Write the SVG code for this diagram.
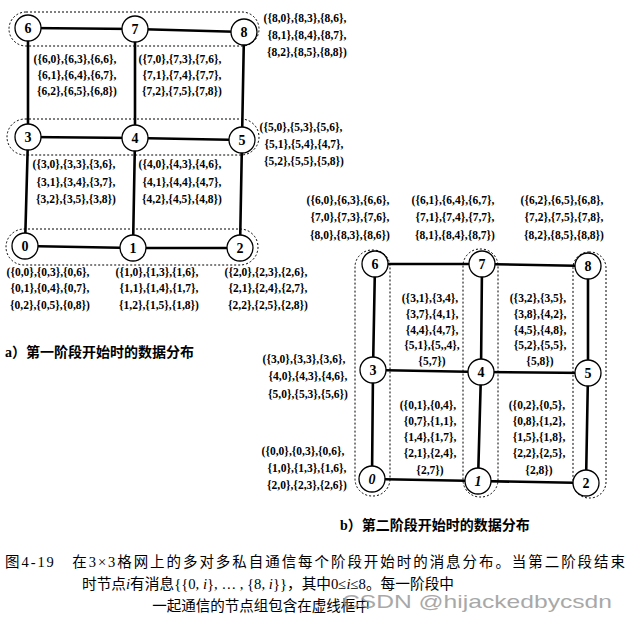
<svg xmlns="http://www.w3.org/2000/svg" width="628" height="620" viewBox="0 0 628 620">
<style>
.e{stroke:#000;stroke-width:2.6;fill:none;stroke-linecap:round}
.c{fill:#fff;stroke:#000;stroke-width:1.3}
.box{fill:none;stroke:#000;stroke-width:1;stroke-dasharray:2 2}
.nl{font-family:"Liberation Serif",serif;font-weight:bold;font-size:14px;text-anchor:middle}
.it{font-style:italic}
.t{font-family:"Liberation Serif",serif;font-weight:bold;font-size:11.5px;text-anchor:middle}
.cap{font-family:"Liberation Serif","Noto Sans CJK SC",sans-serif;font-weight:bold;font-size:14px}
.mc{font-family:"Liberation Serif","Noto Sans CJK SC",serif;font-size:14.5px}
.wm{font-family:"Liberation Sans",sans-serif;font-size:19px;fill:#9a9a9a;opacity:0.85}
</style>

<g id="groups">
<rect class="box" x="9" y="12" width="250" height="34" rx="17"/>
<rect class="box" x="7" y="119" width="252" height="36" rx="18"/>
<rect class="box" x="6" y="229" width="252" height="36" rx="18"/>
<rect class="box" x="355" y="250" width="35" height="246" rx="17"/>
<rect class="box" x="463" y="249" width="35" height="248" rx="17"/>
<rect class="box" x="573" y="252" width="33" height="246" rx="16"/>
</g>

<g id="connectors">
<line class="e" x1="28" y1="28" x2="135" y2="29"/>
<line class="e" x1="135" y1="29" x2="244" y2="32"/>
<line class="e" x1="28" y1="137" x2="135" y2="138"/>
<line class="e" x1="135" y1="138" x2="242" y2="140"/>
<line class="e" x1="25" y1="246" x2="133" y2="248"/>
<line class="e" x1="133" y1="248" x2="240" y2="248"/>
<line class="e" x1="28" y1="28" x2="28" y2="137"/>
<line class="e" x1="28" y1="137" x2="25" y2="246"/>
<line class="e" x1="135" y1="29" x2="135" y2="138"/>
<line class="e" x1="135" y1="138" x2="133" y2="248"/>
<line class="e" x1="244" y1="32" x2="242" y2="140"/>
<line class="e" x1="242" y1="140" x2="240" y2="248"/>

<line class="e" x1="375" y1="264" x2="482" y2="264"/>
<line class="e" x1="482" y1="264" x2="588" y2="266"/>
<line class="e" x1="373" y1="370" x2="481" y2="372"/>
<line class="e" x1="481" y1="372" x2="588" y2="373"/>
<line class="e" x1="372" y1="479" x2="478" y2="481"/>
<line class="e" x1="478" y1="481" x2="586" y2="483"/>
<line class="e" x1="375" y1="264" x2="373" y2="370"/>
<line class="e" x1="373" y1="370" x2="372" y2="479"/>
<line class="e" x1="482" y1="264" x2="481" y2="372"/>
<line class="e" x1="481" y1="372" x2="478" y2="481"/>
<line class="e" x1="588" y1="266" x2="588" y2="373"/>
<line class="e" x1="588" y1="373" x2="586" y2="483"/>
</g>

<g id="a-n6"><circle class="c" cx="28" cy="28" r="13"/><text class="nl" x="28" y="33">6</text></g>
<g id="a-n7"><circle class="c" cx="135" cy="29" r="13"/><text class="nl" x="135" y="34">7</text></g>
<g id="a-n8"><circle class="c" cx="244" cy="32" r="13"/><text class="nl" x="244" y="37">8</text></g>
<g id="a-n3"><circle class="c" cx="28" cy="137" r="13"/><text class="nl" x="28" y="142">3</text></g>
<g id="a-n4"><circle class="c" cx="135" cy="138" r="13"/><text class="nl" x="135" y="143">4</text></g>
<g id="a-n5"><circle class="c" cx="242" cy="140" r="13"/><text class="nl" x="242" y="145">5</text></g>
<g id="a-n0"><circle class="c" cx="25" cy="246" r="13"/><text class="nl" x="25" y="251">0</text></g>
<g id="a-n1"><circle class="c" cx="133" cy="248" r="13"/><text class="nl" x="133" y="253">1</text></g>
<g id="a-n2"><circle class="c" cx="240" cy="248" r="13"/><text class="nl" x="240" y="253">2</text></g>

<g id="b-n6"><circle class="c" cx="375" cy="264" r="13"/><text class="nl" x="375" y="269">6</text></g>
<g id="b-n7"><circle class="c" cx="482" cy="264" r="13"/><text class="nl" x="482" y="269">7</text></g>
<g id="b-n8"><circle class="c" cx="588" cy="266" r="13"/><text class="nl" x="588" y="271">8</text></g>
<g id="b-n3"><circle class="c" cx="373" cy="370" r="13"/><text class="nl" x="373" y="375">3</text></g>
<g id="b-n4"><circle class="c" cx="481" cy="372" r="13"/><text class="nl" x="481" y="377">4</text></g>
<g id="b-n5"><circle class="c" cx="588" cy="373" r="13"/><text class="nl" x="588" y="378">5</text></g>
<g id="b-n0"><circle class="c" cx="372" cy="479" r="13"/><text class="nl it" x="372" y="484">0</text></g>
<g id="b-n1"><circle class="c" cx="478" cy="481" r="13"/><text class="nl it" x="478" y="486">1</text></g>
<g id="b-n2"><circle class="c" cx="586" cy="483" r="13"/><text class="nl" x="586" y="488">2</text></g>

<g id="labels-a">
<text class="t" x="305" y="22">({8,0},{8,3},{8,6},</text>
<text class="t" x="307" y="39">{8,1},{8,4},{8,7},</text>
<text class="t" x="307" y="56">{8,2},{8,5},{8,8})</text>
<text class="t" x="75" y="63">({6,0},{6,3},{6,6},</text>
<text class="t" x="77" y="79">{6,1},{6,4},{6,7},</text>
<text class="t" x="77" y="95">{6,2},{6,5},{6,8})</text>
<text class="t" x="180" y="63">({7,0},{7,3},{7,6},</text>
<text class="t" x="182" y="79">{7,1},{7,4},{7,7},</text>
<text class="t" x="182" y="95">{7,2},{7,5},{7,8})</text>
<text class="t" x="301" y="131">({5,0},{5,3},{5,6},</text>
<text class="t" x="304" y="148">{5,1},{5,4},{4,7},</text>
<text class="t" x="304" y="165">{5,2},{5,5},{5,8})</text>
<text class="t" x="74" y="168">({3,0},{3,3},{3,6},</text>
<text class="t" x="76" y="186">{3,1},{3,4},{3,7},</text>
<text class="t" x="76" y="203">{3,2},{3,5},{3,8})</text>
<text class="t" x="180" y="168">({4,0},{4,3},{4,6},</text>
<text class="t" x="182" y="186">{4,1},{4,4},{4,7},</text>
<text class="t" x="182" y="203">{4,2},{4,5},{4,8})</text>
<text class="t" x="48" y="276">({0,0},{0,3},{0,6},</text>
<text class="t" x="50" y="292">{0,1},{0,4},{0,7},</text>
<text class="t" x="50" y="309">{0,2},{0,5},{0,8})</text>
<text class="t" x="157" y="276">({1,0},{1,3},{1,6},</text>
<text class="t" x="159" y="292">{1,1},{1,4},{1,7},</text>
<text class="t" x="159" y="309">{1,2},{1,5},{1,8})</text>
<text class="t" x="266" y="276">({2,0},{2,3},{2,6},</text>
<text class="t" x="268" y="292">{2,1},{2,4},{2,7},</text>
<text class="t" x="268" y="309">{2,2},{2,5},{2,8})</text>
</g>

<g id="labels-b">
<text class="t" x="348" y="204">({6,0},{6,3},{6,6},</text>
<text class="t" x="350" y="221">{7,0},{7,3},{7,6},</text>
<text class="t" x="350" y="239">{8,0},{8,3},{8,6})</text>
<text class="t" x="453" y="204">({6,1},{6,4},{6,7},</text>
<text class="t" x="455" y="221">{7,1},{7,4},{7,7},</text>
<text class="t" x="455" y="239">{8,1},{8,4},{8,7})</text>
<text class="t" x="562" y="204">({6,2},{6,5},{6,8},</text>
<text class="t" x="564" y="221">{7,2},{7,5},{7,8},</text>
<text class="t" x="564" y="239">{8,2},{8,5},{8,8})</text>
<text class="t" x="430" y="302">({3,1},{3,4},</text>
<text class="t" x="432" y="318">{3,7},{4,1},</text>
<text class="t" x="432" y="334">{4,4},{4,7},</text>
<text class="t" x="432" y="349">{5,1},{5,,4},</text>
<text class="t" x="432" y="365">{5,7})</text>
<text class="t" x="538" y="302">({3,2},{3,5},</text>
<text class="t" x="540" y="318">{3,8},{4,2},</text>
<text class="t" x="540" y="334">{4,5},{4,8},</text>
<text class="t" x="540" y="349">{5,2},{5,5},</text>
<text class="t" x="540" y="365">{5,8})</text>
<text class="t" x="304" y="363">({3,0},{3,3},{3,6},</text>
<text class="t" x="308" y="380">{4,0},{4,3},{4,6},</text>
<text class="t" x="308" y="398">{5,0},{5,3},{5,6})</text>
<text class="t" x="428" y="409">({0,1},{0,4},</text>
<text class="t" x="430" y="425">{0,7},{1,1},</text>
<text class="t" x="430" y="441">{1,4},{1,7},</text>
<text class="t" x="430" y="457">{2,1},{2,4},</text>
<text class="t" x="430" y="474">{2,7})</text>
<text class="t" x="537" y="409">({0,2},{0,5},</text>
<text class="t" x="539" y="425">{0,8},{1,2},</text>
<text class="t" x="539" y="441">{1,5},{1,8},</text>
<text class="t" x="539" y="457">{2,2},{2,5},</text>
<text class="t" x="539" y="474">{2,8})</text>
<text class="t" x="303" y="455">({0,0},{0,3},{0,6},</text>
<text class="t" x="307" y="472">{1,0},{1,3},{1,6},</text>
<text class="t" x="307" y="489">{2,0},{2,3},{2,6})</text>
</g>

<g id="captions">
<text class="cap" x="5" y="357">a）第一阶段开始时的数据分布</text>
<text class="cap" x="340" y="530">b）第二阶段开始时的数据分布</text>
<text class="mc" x="5" y="567" textLength="620" lengthAdjust="spacing">图4-19　在3×3格网上的多对多私自通信每个阶段开始时的消息分布。当第二阶段结束</text>
<text class="mc" x="82" y="589" textLength="372" lengthAdjust="spacingAndGlyphs">时节点<tspan font-style="italic">i</tspan>有消息{{0, <tspan font-style="italic">i</tspan>}, … , {8, <tspan font-style="italic">i</tspan>}}，其中0≤<tspan font-style="italic">i</tspan>≤8。每一阶段中</text>
<text class="mc" x="261" y="611" text-anchor="middle" font-size="14">一起通信的节点组包含在虚线框中</text>
<text class="wm" x="342" y="608" textLength="270" lengthAdjust="spacingAndGlyphs">CSDN @hijackedbycsdn</text>
</g>
</svg>
